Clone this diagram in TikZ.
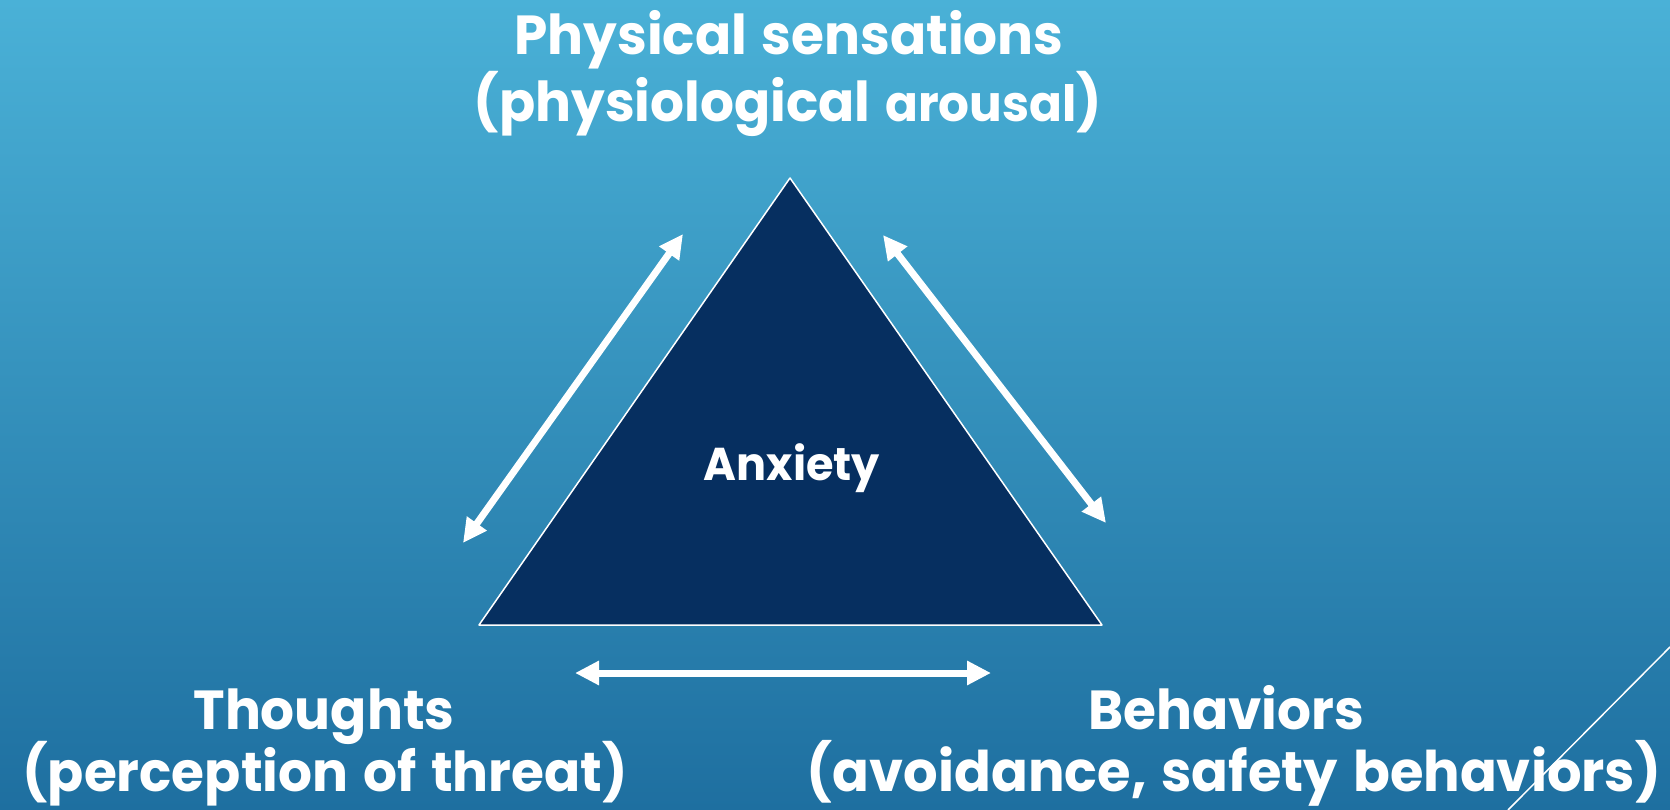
\documentclass[tikz,border=0pt]{standalone}
\usepackage{fontspec}
\setmainfont{Poppins}[FakeStretch=0.97,WordSpace=1.3]
\usetikzlibrary{arrows.meta,positioning}
\definecolor{bgtop}{RGB}{74,177,215}
\definecolor{bgbot}{RGB}{30,111,160}
\definecolor{trifill}{RGB}{6,47,96}
\begin{document}
\begin{tikzpicture}[x=1pt,y=-1pt,line join=round]
\tikzset{lbl/.style={text=white,font=\bfseries\fontsize{55}{66}\selectfont,inner sep=0pt,anchor=base},
  dblarrow/.style={white,line width=7pt,{Triangle[length=24pt,width=23pt]}-{Triangle[length=24pt,width=23pt]}}}
\useasboundingbox (0,0) rectangle (1670,810);
\shade[top color=bgtop,bottom color=bgbot] (0,0) rectangle (1670,810);
% triangle
\coordinate (apex) at (790,178);
\coordinate (bl) at (479,625);
\coordinate (br) at (1102,625);
\draw[white,line width=1.5pt,fill=trifill] (apex) -- (bl) -- (br) -- cycle;
\node[lbl,font=\bfseries\fontsize{46}{55}\selectfont] (anx) at (792,480) {Anxiety};
% labels
\node[lbl] (sens1) at (789,55) {Physical sensations};
\node[lbl] (sens2) at (788,122) {(physiological {\fontsize{50}{60}\selectfont arousal})};
\node[lbl] (tho1) at (324,729) {Thoughts};
\node[lbl] (tho2) at (325,791) {(perception of threat)};
\node[lbl] (beh1) at (1226,729) {Behaviors};
\node[lbl,font=\bfseries\fontsize{56}{66}\selectfont] (beh2) at (1234,791) {(avoidance, safety behaviors)};
% arrows
\coordinate (l1) at (463,543); \coordinate (l2) at (683,234);
\coordinate (r1) at (883,235); \coordinate (r2) at (1106,523);
\coordinate (b1) at (575,673); \coordinate (b2) at (991,673);
\draw[dblarrow] (l1) -- (l2);
\draw[dblarrow] (r1) -- (r2);
\draw[dblarrow] (b1) -- (b2);
% corner line
\coordinate (c1) at (1508,810); \coordinate (c2) at (1670,647);
\draw[white,line width=1.5pt] (c1) -- (c2);
\end{tikzpicture}
\end{document}
